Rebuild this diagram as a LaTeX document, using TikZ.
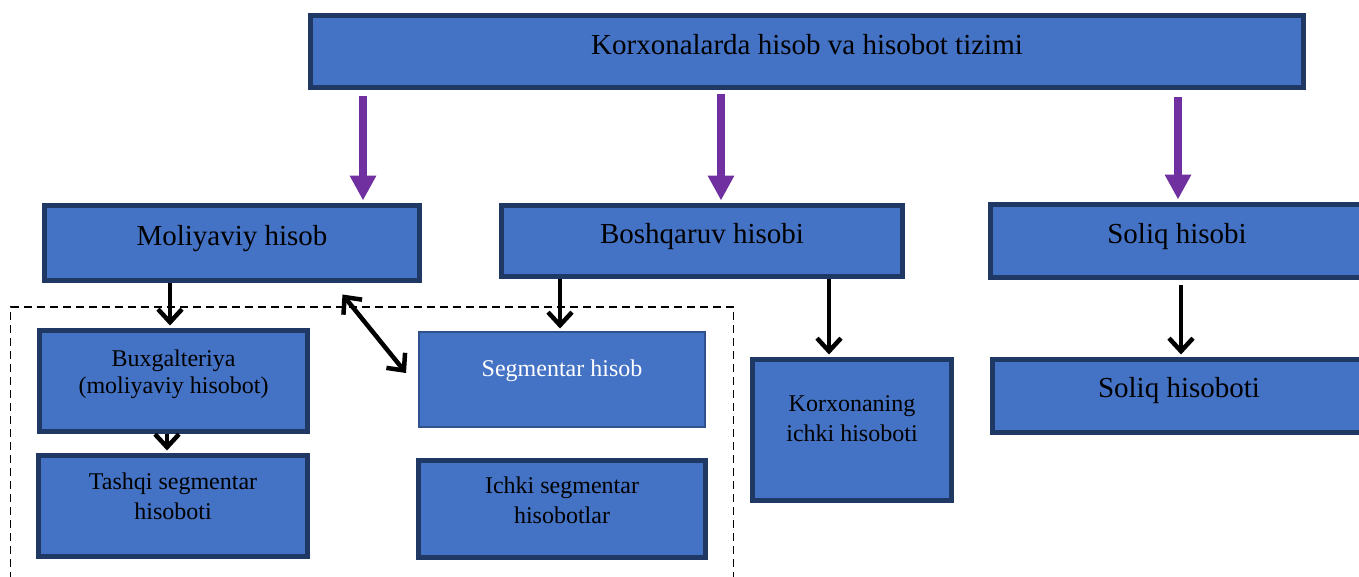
\documentclass[tikz,border=0pt]{standalone}
\usepackage{fontspec}
\setmainfont{Liberation Serif}
\usetikzlibrary{arrows.meta,calc}

\definecolor{kcolor0000}{RGB}{68,114,196}
\definecolor{kcolor0001}{RGB}{32,56,100}
\definecolor{kcolor0002}{RGB}{47,82,143}
\definecolor{kcolor0003}{RGB}{112,48,160}

\begin{document}
\begin{tikzpicture}[
  yscale = -1,
  kstyle0/.style = {draw=kcolor0001,fill=kcolor0000,line width=5pt,inner sep=0pt},
  kstyle1/.style = {draw=kcolor0002,fill=kcolor0000,line width=2pt,inner sep=0pt},
  kstyle2/.style = {color=kcolor0003,line width=8pt,shorten >=2.5pt,-{Triangle[length=25pt,width=25pt]}},
  kstyle3/.style = {color=black,line width=4.5pt,shorten >=2.5pt,-{Straight Barb[length=13pt,width=24pt]}},
  kstyle4/.style = {color=black,line width=4.5pt,{Straight Barb[length=13pt,width=24pt]}-{Straight Barb[length=13pt,width=24pt]}},
  kstyle5/.style = {color=black,line width=1.5pt,dash pattern=on 8pt off 5pt},
  ktext0/.style = {inner sep=0pt,anchor=base,font=\fontsize{29pt}{33pt}\selectfont},
  ktext1/.style = {inner sep=0pt,align=center,font=\fontsize{24pt}{27pt}\selectfont},
]
  \useasboundingbox (0pt,0pt) rectangle (1359pt,576pt);
  \draw[kstyle5] (10.5pt,580pt) -- (10.5pt,307pt) -- (733.5pt,307pt) -- (733.5pt,580pt);
  % boxes
  \node (top) at (807pt,51.5pt)[kstyle0,minimum width=993pt,minimum height=72pt]{};
  \node (ttop) at (807pt,54pt)[ktext0]{Korxonalarda hisob va hisobot tizimi};
  \node (mol) at (232pt,243pt)[kstyle0,minimum width=375pt,minimum height=75pt]{};
  \node (tmol) at (232pt,245pt)[ktext0]{Moliyaviy hisob};
  \node (bos) at (702pt,241pt)[kstyle0,minimum width=401pt,minimum height=71pt]{};
  \node (tbos) at (702pt,243pt)[ktext0]{Boshqaruv hisobi};
  \node (sol) at (1177pt,241pt)[kstyle0,minimum width=373pt,minimum height=73pt]{};
  \node (tsol) at (1177pt,243pt)[ktext0]{Soliq hisobi};
  \node (bux) at (173.5pt,381pt)[kstyle0,minimum width=268pt,minimum height=101pt]{};
  \node (tbux) at (173.5pt,373.9pt)[ktext1]{Buxgalteriya\\(moliyaviy hisobot)};
  \node (tas) at (173pt,506pt)[kstyle0,minimum width=269pt,minimum height=101pt]{};
  \node (ttas) at (173pt,495.8pt)[ktext1,font=\fontsize{24pt}{30pt}\selectfont]{Tashqi segmentar\\hisoboti};
  \node (seg) at (562pt,379.5pt)[kstyle1,minimum width=286pt,minimum height=95pt]{};
  \node (tseg) at (562pt,376pt)[ktext1,anchor=base,color=white]{Segmentar hisob};
  \node (ich) at (562pt,509pt)[kstyle0,minimum width=287pt,minimum height=97pt]{};
  \node (tich) at (562pt,499.8pt)[ktext1,font=\fontsize{24pt}{30pt}\selectfont]{Ichki segmentar\\hisobotlar};
  \node (kor) at (852pt,430pt)[kstyle0,minimum width=199pt,minimum height=141pt]{};
  \node (tkor) at (852pt,418.8pt)[ktext1,font=\fontsize{24pt}{30pt}\selectfont]{Korxonaning\\ichki hisoboti};
  \node (solh) at (1179pt,396pt)[kstyle0,minimum width=373pt,minimum height=73pt]{};
  \node (tsolh) at (1179pt,397pt)[ktext0]{Soliq hisoboti};
  % arrows
  \coordinate (p1) at (363pt,96pt);
  \coordinate (p2) at (721pt,94pt);
  \coordinate (p3) at (1178pt,97pt);
  \draw[kstyle2] (p1) -- (p1 |- mol.north);
  \draw[kstyle2] (p2) -- (p2 |- bos.north);
  \draw[kstyle2] (p3) -- (p3 |- sol.north);
  \draw[kstyle3] ([xshift=-62pt]mol.south) -- ([xshift=-62pt]mol.south |- bux.north);
  \draw[kstyle3] ([xshift=-6.5pt]bux.south) -- ([xshift=-6.5pt]bux.south |- tas.north);
  \draw[kstyle3] ([xshift=-2pt]seg.north |- bos.south) -- ([xshift=-2pt]seg.north);
  \draw[kstyle3] ([xshift=-23pt]kor.north |- bos.south) -- ([xshift=-23pt]kor.north);
  \draw[kstyle3,shorten <=5pt] ([xshift=2pt]solh.north |- sol.south) -- ([xshift=2pt]solh.north);
  \draw[kstyle4] ($(mol.south east)+(-79.5pt,11.5pt)$) -- ($(seg.west)+(-12pt,-6.5pt)$);
\end{tikzpicture}
\end{document}
